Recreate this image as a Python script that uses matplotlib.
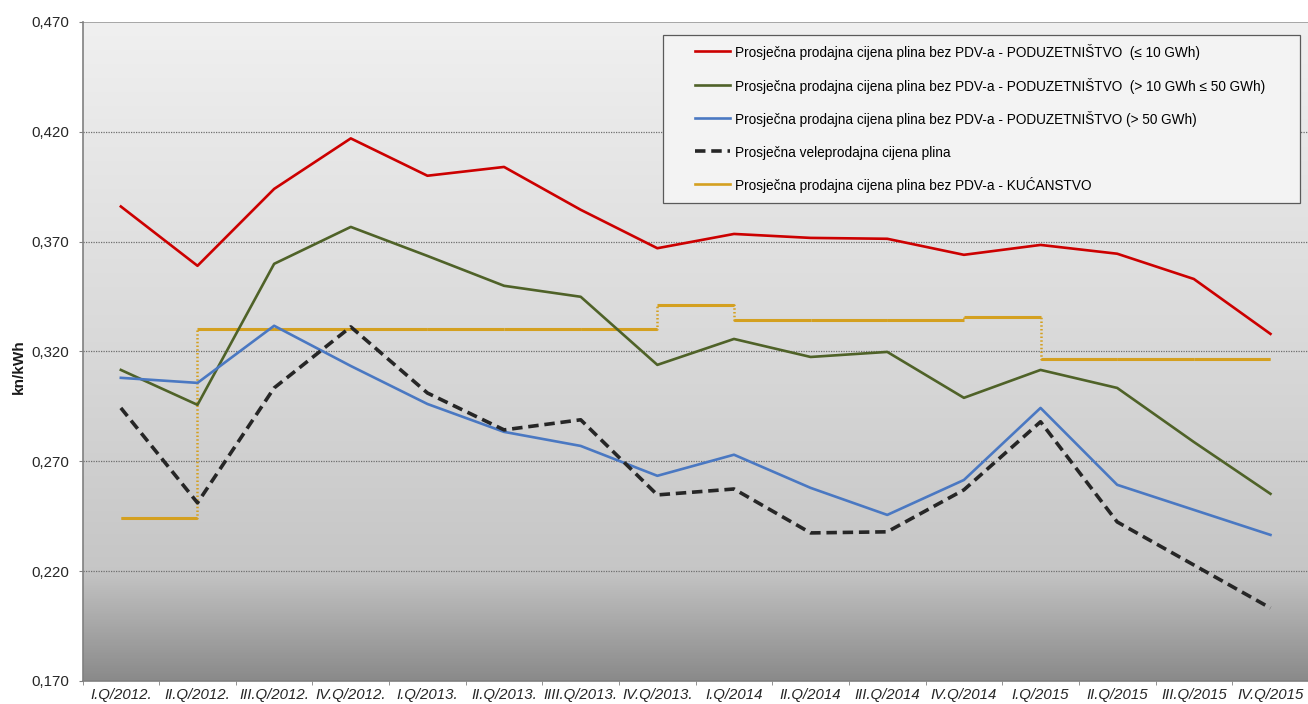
import numpy as np
import matplotlib.pyplot as plt
from matplotlib.colors import LinearSegmentedColormap
from matplotlib.lines import Line2D
from matplotlib.legend_handler import HandlerLine2D

plt.rcParams['font.family'] = ['Liberation Sans', 'DejaVu Sans']

kvartali = ['I.Q/2012.', 'II.Q/2012.', 'III.Q/2012.', 'IV.Q/2012.',
            'I.Q/2013.', 'II.Q/2013.', 'IIII.Q/2013.', 'IV.Q/2013.',
            'I.Q/2014', 'II.Q/2014', 'III.Q/2014', 'IV.Q/2014',
            'I.Q/2015', 'II.Q/2015', 'III.Q/2015', 'IV.Q/2015']

pod_do10 = [0.386, 0.359, 0.394, 0.417, 0.400, 0.404, 0.3845, 0.367,
            0.3735, 0.3717, 0.3713, 0.364, 0.3685, 0.3645, 0.353, 0.328]
pod_10_50 = [0.3116, 0.2957, 0.3599, 0.3767, 0.3635, 0.3499, 0.3449, 0.3139,
             0.3257, 0.3175, 0.3198, 0.2989, 0.3116, 0.3034, 0.2788, 0.2552]
pod_iznad50 = [0.308, 0.3057, 0.3317, 0.3134, 0.2961, 0.2834, 0.277, 0.2634,
               0.273, 0.2579, 0.2456, 0.2615, 0.2943, 0.2593, 0.2479, 0.2365]
veleprodaja = [0.2943, 0.2511, 0.3034, 0.3312, 0.3011, 0.2843, 0.2889, 0.2547,
               0.2574, 0.2374, 0.2379, 0.257, 0.288, 0.2424, 0.2228, 0.2032]
kucanstvo = [0.2442, 0.3303, 0.3303, 0.3303, 0.3303, 0.3303, 0.3303, 0.3412,
             0.3343, 0.3343, 0.3343, 0.3359, 0.3168, 0.3168, 0.3168, 0.3168]

oznake = ['Prosječna prodajna cijena plina bez PDV-a - PODUZETNIŠTVO  (≤ 10 GWh)',
          'Prosječna prodajna cijena plina bez PDV-a - PODUZETNIŠTVO  (> 10 GWh ≤ 50 GWh)',
          'Prosječna prodajna cijena plina bez PDV-a - PODUZETNIŠTVO (> 50 GWh)',
          'Prosječna veleprodajna cijena plina',
          'Prosječna prodajna cijena plina bez PDV-a - KUĆANSTVO']

x = np.arange(len(kvartali))

fig = plt.figure(figsize=(13.08, 7.04), dpi=100)
ax = fig.add_axes([0.0631, 0.0327, 0.9375, 0.9361])
ax.set_xlim(-0.5, len(kvartali) - 0.5)
ax.set_ylim(0.170, 0.470)

# siva pozadina koja tamni prema dnu
cmap = LinearSegmentedColormap.from_list('pozadina', [
    (0.0, '#8a8a8a'), (0.17, '#c6c6c6'), (0.45, '#d6d6d6'), (1.0, '#f0f0f0')])
grad = np.linspace(0, 1, 256).reshape(-1, 1)
ax.imshow(grad, cmap=cmap, origin='lower', aspect='auto',
          extent=[-0.5, len(kvartali) - 0.5, 0.170, 0.470], zorder=0)

for v in [0.220, 0.270, 0.320, 0.370, 0.420]:
    ax.axhline(v, color='#6e6e6e', lw=0.9, ls=(0, (1, 1)), zorder=1)
ax.axhline(0.470, color='#9a9a9a', lw=1.2, zorder=1)

ax.plot(x, pod_do10, color='#cc0000', lw=1.9, label=oznake[0], zorder=3)
ax.plot(x, pod_10_50, color='#4f6228', lw=1.9, label=oznake[1], zorder=3)
ax.plot(x, pod_iznad50, color='#4a78c2', lw=1.9, label=oznake[2], zorder=3)
ax.plot(x, veleprodaja, color='#262626', lw=2.6, ls=(0, (2.9, 1.6)),
        label=oznake[3], zorder=3)

# kućanstvo: vodoravno puna linija, skokovi točkasto
ax.plot(x, kucanstvo, color='#d4a020', lw=1.8, ls=(0, (0.6, 0.9)),
        drawstyle='steps-post', zorder=2)
ax.hlines(kucanstvo[:-1], x[:-1], x[1:], color='#d4a020', lw=2.2, zorder=2)
ax.plot([], [], color='#d4a020', lw=1.9, label=oznake[4])

ax.set_yticks([0.170, 0.220, 0.270, 0.320, 0.370, 0.420, 0.470])
ax.set_yticklabels(['0,170', '0,220', '0,270', '0,320', '0,370', '0,420', '0,470'],
                   fontsize=10.8, color='#262626')
ax.set_xticks(x)
ax.set_xticklabels(kvartali, fontsize=10.8, style='italic', color='#262626')
ax.set_xticks(np.arange(len(kvartali) + 1) - 0.5, minor=True)
ax.tick_params(axis='x', which='major', length=0, pad=5)
ax.tick_params(axis='x', which='minor', length=3, color='#808080')
ax.tick_params(axis='y', length=3, color='#808080', pad=6.5)

for s in ['top', 'right']:
    ax.spines[s].set_visible(False)
for s in ['left', 'bottom']:
    ax.spines[s].set_color('#808080')
    ax.spines[s].set_linewidth(1.2)

fig.text(0.0145, 0.4787, 'kn/kWh', rotation=90, fontsize=11, fontweight='bold',
         ha='center', va='center', color='#1a1a1a')

leg = ax.legend(loc='upper left', bbox_to_anchor=(0.4734, 0.7253, 0.5195, 0.255),
                mode='expand', fontsize=9.8, frameon=True, fancybox=False,
                edgecolor='#5a5a5a', facecolor='#f3f3f3', framealpha=1,
                handleheight=1.4, labelspacing=1.25, handlelength=4.23,
                handletextpad=0.37, borderpad=0.7, borderaxespad=0,
                handler_map={Line2D: HandlerLine2D(xpad=1.65)})
leg.get_frame().set_linewidth(0.9)
leg.set_zorder(5)

fig.savefig('out.png', dpi=100)
